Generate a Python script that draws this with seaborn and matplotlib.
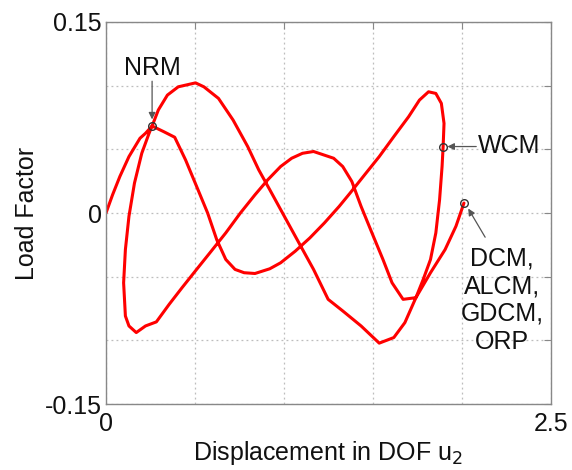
import numpy as np
import pandas as pd
import matplotlib
matplotlib.use("Agg")
import matplotlib.pyplot as plt
import seaborn as sns

# Equilibrium path (displacement u2, load factor), in path order
disp = [0.000, 0.037, 0.078, 0.129, 0.191, 0.222, 0.259, 0.324, 0.386, 0.447,
        0.509, 0.571, 0.622, 0.673, 0.725, 0.776, 0.837, 0.920, 0.981, 1.063,
        1.145, 1.227, 1.310, 1.371, 1.453, 1.535, 1.617, 1.700, 1.761, 1.812,
        1.853, 1.884, 1.899, 1.894, 1.888, 1.874, 1.853, 1.823, 1.782, 1.741,
        1.669, 1.607, 1.556, 1.494, 1.433, 1.381, 1.330, 1.279, 1.166, 1.104,
        1.043, 0.981, 0.909, 0.837, 0.755, 0.673, 0.591, 0.509, 0.427, 0.355,
        0.283, 0.222, 0.170, 0.129, 0.109, 0.099, 0.109, 0.129, 0.160, 0.201,
        0.242, 0.259, 0.294, 0.345, 0.406, 0.503, 0.550, 0.632, 0.714, 0.796,
        0.858, 0.920, 1.002, 1.084, 1.166, 1.248, 1.330, 1.433, 1.535, 1.617,
        1.679, 1.741, 1.823, 1.905, 1.966, 2.011]
load = [0.0000, 0.0143, 0.0287, 0.0443, 0.0587, 0.0626, 0.0683, 0.0639, 0.0595, 0.0417,
        0.0209, 0.0000, -0.0209, -0.0365, -0.0443, -0.0469, -0.0475, -0.0438, -0.0391, -0.0300,
        -0.0196, -0.0078, 0.0052, 0.0156, 0.0300, 0.0443, 0.0600, 0.0756, 0.0887, 0.0952,
        0.0939, 0.0861, 0.0704, 0.0522, 0.0365, 0.0104, -0.0156, -0.0365, -0.0522, -0.0665,
        -0.0678, -0.0548, -0.0365, -0.0156, 0.0052, 0.0248, 0.0365, 0.0430, 0.0483, 0.0469,
        0.0430, 0.0365, 0.0261, 0.0143, 0.0000, -0.0156, -0.0300, -0.0443, -0.0587, -0.0717,
        -0.0855, -0.0887, -0.0939, -0.0887, -0.0809, -0.0548, -0.0287, -0.0026, 0.0235, 0.0469,
        0.0626, 0.0683, 0.0809, 0.0926, 0.0991, 0.1022, 0.0991, 0.0900, 0.0730, 0.0522,
        0.0339, 0.0183, -0.0026, -0.0235, -0.0443, -0.0678, -0.0769, -0.0887, -0.1022, -0.0978,
        -0.0861, -0.0665, -0.0469, -0.0287, -0.0104, 0.0078]

# Marked solution points
mark_labels = ["NRM", "WCM", "DCM,\nALCM,\nGDCM,\nORP"]
mark_x = [0.259, 1.894, 2.011]
mark_y = [0.0683, 0.0522, 0.0078]

x_ticks = [0.0, 0.5, 1.0, 1.5, 2.0, 2.5]
x_ticklabels = ["0", "", "", "", "", "2.5"]
y_ticks = [-0.15, -0.10, -0.05, 0.0, 0.05, 0.10, 0.15]
y_ticklabels = ["-0.15", "", "", "0", "", "", "0.15"]

sns.set_style("white")
plt.rcParams["font.family"] = ["Liberation Sans", "DejaVu Sans"]

fig = plt.figure(figsize=(5.72, 4.70), dpi=100)
ax = fig.add_axes([0.1853, 0.1404, 0.778, 0.8128])

df = pd.DataFrame({"u2": disp, "lf": load, "order": np.arange(len(disp))})
sns.lineplot(data=df, x="u2", y="lf", sort=False, estimator=None, color="#ff0000",
             linewidth=2.2, ax=ax)
ax.plot(mark_x, mark_y, linestyle="none", marker="o", markersize=5.5,
        markerfacecolor="none", markeredgecolor="#333333", markeredgewidth=1.0, zorder=5)

ax.set_xlim(0, 2.5)
ax.set_ylim(-0.15, 0.15)
ax.set_xticks(x_ticks)
ax.set_xticklabels(x_ticklabels)
ax.set_yticks(y_ticks)
ax.set_yticklabels(y_ticklabels)
ax.grid(True, linestyle=(0, (1.5, 2.5)), color="#bdbdbd", linewidth=0.9)
for s in ax.spines.values():
    s.set_color("#888888")
    s.set_linewidth(1.0)
ax.tick_params(axis="both", which="both", direction="in", length=5, width=0.8,
               color="#888888", top=True, right=True, labelsize=18, labelcolor="#111111")
ax.tick_params(axis="x", pad=6)
ax.tick_params(axis="y", pad=3)

ax.set_xlabel("Displacement in DOF u$_2$", fontsize=18, labelpad=2, color="#111111")
ax.set_ylabel("Load Factor", fontsize=18, labelpad=4, color="#111111")

arrow_kw = dict(arrowstyle="-|>", color="#555555", lw=0.9, mutation_scale=10,
                shrinkA=0, shrinkB=0)
ax.annotate("", xy=(0.259, 0.0735), xytext=(0.259, 0.1035), arrowprops=arrow_kw)
ax.text(0.259, 0.1135, mark_labels[0], fontsize=18, ha="center", va="center", color="#111111")

ax.annotate("", xy=(1.918, 0.0522), xytext=(2.08, 0.0522), arrowprops=arrow_kw)
ax.text(2.09, 0.053, mark_labels[1], fontsize=18, ha="left", va="center", color="#111111")

ax.annotate("", xy=(2.035, 0.0035), xytext=(2.13, -0.0190), arrowprops=arrow_kw)
ax.text(2.225, -0.0683, mark_labels[2], fontsize=18, ha="center", va="center",
        multialignment="center", linespacing=1.2, color="#111111")

fig.savefig("out.png", dpi=100)
